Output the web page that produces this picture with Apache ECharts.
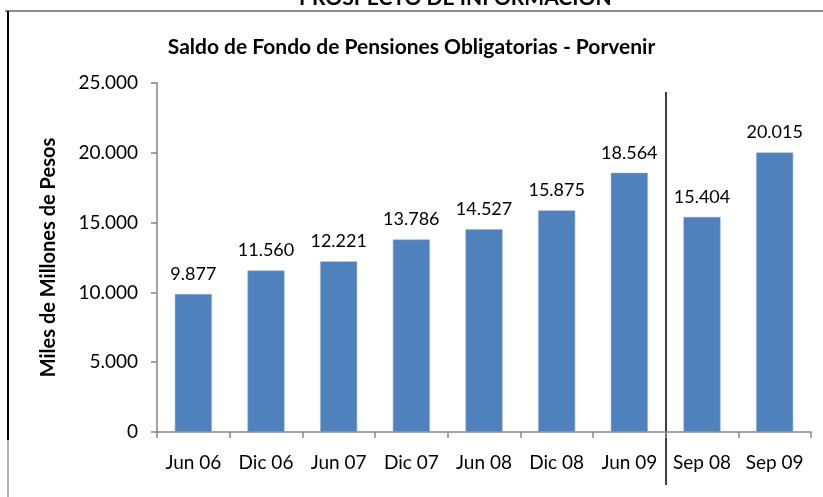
<!DOCTYPE html>
<html>
<head>
<meta charset="utf-8">
<script src="https://cdn.jsdelivr.net/npm/echarts@6/dist/echarts.min.js"></script>
<style>
  html, body { margin: 0; padding: 0; background: #fff; }
  #chart { width: 823px; height: 497px; }
</style>
</head>
<body>
<div id="chart"></div>
<script>
// Saldo de Fondo de Pensiones Obligatorias - Porvenir
var categories = ['Jun 06', 'Dic 06', 'Jun 07', 'Dic 07', 'Jun 08', 'Dic 08', 'Jun 09', 'Sep 08', 'Sep 09'];
var saldo = [9877, 11560, 12221, 13786, 14527, 15875, 18564, 15404, 20015];
var yTicks = [0, 5000, 10000, 15000, 20000, 25000];

var FONT = 'Lato';

function fmt(v) {
    return String(v).replace(/\B(?=(\d{3})+(?!\d))/g, '.');
}

(function() {
    var myChart = echarts.init(document.getElementById('chart'));

    var option = {
        animation: false,
        backgroundColor: '#fff',
        title: {
            text: 'Saldo de Fondo de Pensiones Obligatorias - Porvenir',
            left: 'center',
            top: 32,
            textStyle: {
                fontFamily: FONT,
                fontSize: 21,
                fontWeight: 'bold',
                color: '#000'
            }
        },
        grid: {
            left: 157,
            right: 12,
            top: 83,
            bottom: 65
        },
        xAxis: {
            type: 'category',
            data: categories,
            axisLine: { lineStyle: { color: '#868686', width: 1.5 } },
            axisTick: { show: true, length: 6, lineStyle: { color: '#868686', width: 1.5 } },
            axisLabel: {
                interval: 0,
                margin: 21,
                fontFamily: FONT,
                fontSize: 19,
                color: '#000'
            }
        },
        yAxis: {
            type: 'value',
            min: yTicks[0],
            max: yTicks[yTicks.length - 1],
            interval: 5000,
            name: 'Miles de Millones de Pesos',
            nameLocation: 'middle',
            nameGap: 98,
            nameTextStyle: {
                fontFamily: FONT,
                fontSize: 20,
                fontWeight: 'bold',
                color: '#000'
            },
            axisLine: { show: true, lineStyle: { color: '#868686', width: 1.5 } },
            axisTick: { show: true, length: 6, lineStyle: { color: '#868686', width: 1.5 } },
            splitLine: { show: false },
            axisLabel: {
                margin: 19,
                fontFamily: FONT,
                fontSize: 19,
                color: '#000',
                formatter: function(v) { return fmt(v); }
            }
        },
        series: [{
            type: 'bar',
            data: saldo,
            barWidth: 37,
            itemStyle: {
                color: '#4F81BD',
                borderColor: '#8EAAD6',
                borderWidth: 0.5
            },
            label: {
                show: true,
                position: 'top',
                distance: 11,
                fontFamily: FONT,
                fontSize: 18,
                color: '#000',
                formatter: function(p) { return fmt(p.value); }
            }
        }]
    };

    myChart.setOption(option);

    // separador vertical entre Jun 09 y Sep 08
    var x6 = myChart.convertToPixel({ xAxisIndex: 0 }, 6);
    var x7 = myChart.convertToPixel({ xAxisIndex: 0 }, 7);
    var sepX = Math.round((x6 + x7) / 2);

    myChart.setOption({
        graphic: [
            {
                type: 'text',
                left: 299,
                top: -12,
                style: {
                    text: 'PROSPECTO DE INFORMACION',
                    fontFamily: FONT,
                    fontSize: 21,
                    fontWeight: 'bold',
                    fill: '#000'
                }
            },
            {
                type: 'line',
                shape: { x1: 5, y1: 11, x2: 823, y2: 11 },
                style: { stroke: '#8c8c8c', lineWidth: 2 }
            },
            {
                type: 'line',
                shape: { x1: 8, y1: 11, x2: 8, y2: 440 },
                style: { stroke: '#000', lineWidth: 2 }
            },
            {
                type: 'line',
                shape: { x1: 8, y1: 440, x2: 8, y2: 497 },
                style: { stroke: '#9a9a9a', lineWidth: 1.5 }
            },
            {
                type: 'line',
                shape: { x1: sepX, y1: 92, x2: sepX, y2: 485 },
                style: { stroke: '#000', lineWidth: 1.5 }
            }
        ]
    });

    window.addEventListener('resize', function() {
        myChart.resize();
    });
})();
</script>
</body>
</html>
